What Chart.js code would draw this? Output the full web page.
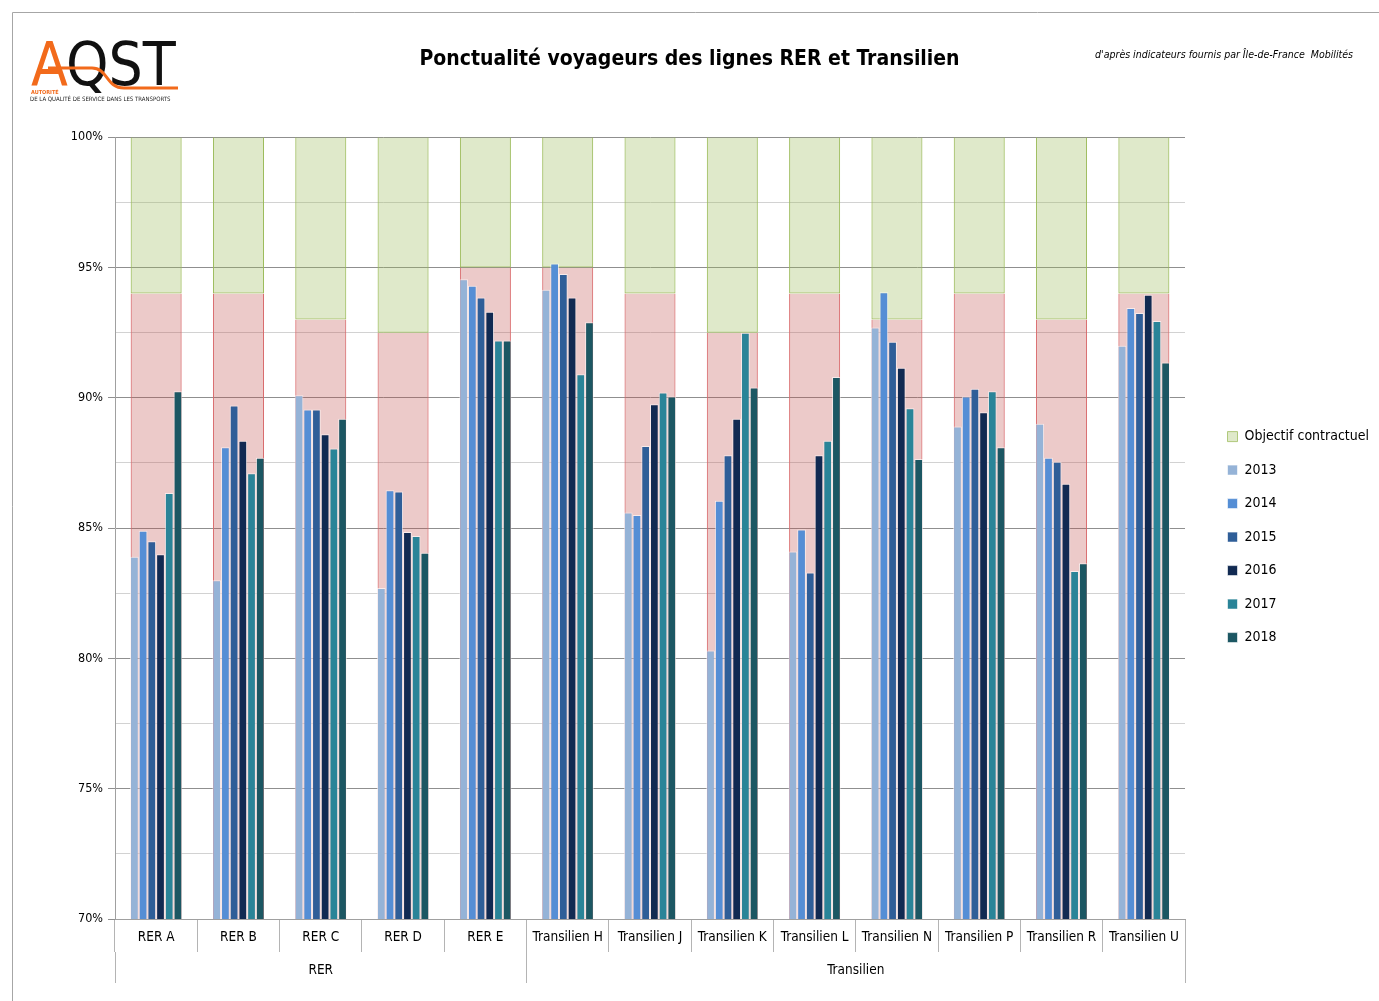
<!DOCTYPE html>
<html><head><meta charset="utf-8">
<script src="https://cdn.jsdelivr.net/npm/chart.js@4/dist/chart.umd.min.js"></script>
<style>html,body{margin:0;padding:0;background:#fff;overflow:hidden}</style>
</head><body>
<canvas id="c" width="1379" height="1001" style="display:block;width:1379px;height:1001px"></canvas>
<script>
const categories = ['RER A','RER B','RER C','RER D','RER E','Transilien H','Transilien J','Transilien K','Transilien L','Transilien N','Transilien P','Transilien R','Transilien U'];
const groupLabels = ['RER','Transilien'];
const groupSizes = [5, 8];
const objective = [94, 94, 93, 92.5, 95, 95, 94, 92.5, 94, 93, 94, 93, 94];
const years = ['2013','2014','2015','2016','2017','2018'];
const v2013 = [83.9, 83.0, 90.1, 82.7, 94.55, 94.15, 85.6, 80.3, 84.1, 92.7, 88.9, 89.0, 92.0];
const v2014 = [84.9, 88.1, 89.55, 86.45, 94.3, 95.15, 85.5, 86.05, 84.95, 94.05, 90.05, 87.7, 93.45];
const v2015 = [84.5, 89.7, 89.55, 86.4, 93.85, 94.75, 88.15, 87.8, 83.3, 92.15, 90.35, 87.55, 93.25];
const v2016 = [84.0, 88.35, 88.6, 84.85, 93.3, 93.85, 89.75, 89.2, 87.8, 91.15, 89.45, 86.7, 93.95];
const v2017 = [86.35, 87.1, 88.05, 84.7, 92.2, 90.9, 90.2, 92.5, 88.35, 89.6, 90.25, 83.35, 92.95];
const v2018 = [90.25, 87.7, 89.2, 84.05, 92.2, 92.9, 90.05, 90.4, 90.8, 87.65, 88.1, 83.65, 91.35];
const yMin = 70, yMax = 100, yStep = 2.5, yLabelStep = 5;

const FF = "'DejaVu Sans Condensed','Liberation Sans Narrow','Open Sans',Roboto,sans-serif";
Chart.defaults.font.family = FF;
Chart.defaults.color = '#000';

const yearSeries = [v2013, v2014, v2015, v2016, v2017, v2018];
const yearColors = ['#95b3d7', '#558ed5', '#2f5e98', '#112a52', '#2a8498', '#1c5763'];

const groupBounds = [0];
groupSizes.forEach(s => groupBounds.push(groupBounds[groupBounds.length - 1] + s));
const groupCenters = groupSizes.map((s, i) => groupBounds[i] + s / 2);

const tv = c => (c && c.tick ? c.tick.value : NaN);

const datasets = [
  {
    label: 'Objectif contractuel',
    data: objective.map(o => [o, yMax]),
    backgroundColor: 'rgba(155,187,89,0.32)',
    borderColor: '#9bbb59',
    borderWidth: {left: 1, right: 1, top: 0, bottom: 1},
    borderSkipped: false,
    grouped: false,
    categoryPercentage: 0.62,
    barPercentage: 1,
    order: 10,
    xAxisID: 'x', yAxisID: 'y'
  },
  {
    label: 'Écart',
    data: objective,
    backgroundColor: 'rgba(192,80,77,0.30)',
    borderColor: '#d9696b',
    borderWidth: {left: 1, right: 1, top: 0, bottom: 0},
    borderSkipped: false,
    grouped: false,
    categoryPercentage: 0.62,
    barPercentage: 1,
    order: 11,
    xAxisID: 'x', yAxisID: 'y'
  }
];
years.forEach((y, i) => datasets.push({
  label: y,
  data: yearSeries[i],
  backgroundColor: yearColors[i],
  borderColor: 'rgba(255,255,255,0.6)',
  borderWidth: 1,
  categoryPercentage: 0.635,
  barPercentage: 1,
  order: 0,
  xAxisID: 'x', yAxisID: 'y'
}));

const decorPlugin = {
  id: 'decor',
  afterDraw(chart) {
    const ctx = chart.ctx;
    ctx.save();
    ctx.strokeStyle = '#a6a6a6';
    ctx.lineWidth = 1;
    ctx.beginPath();
    ctx.moveTo(12.5, 1001); ctx.lineTo(12.5, 12.5); ctx.lineTo(1379, 12.5);
    ctx.stroke();
    ctx.textBaseline = 'alphabetic';
    ctx.textAlign = 'left';
    ctx.font = "60px " + FF;
    ctx.fillStyle = '#f26a1b';
    ctx.fillText('A', 31, 85);
    const wA = ctx.measureText('A').width;
    ctx.fillStyle = '#111';
    ctx.fillText('QST', 31 + wA - 2, 85);
    ctx.strokeStyle = '#f26a1b';
    ctx.lineWidth = 3;
    ctx.beginPath();
    ctx.moveTo(48, 68); ctx.lineTo(92, 68);
    ctx.bezierCurveTo(108, 68, 106, 88, 124, 88);
    ctx.lineTo(178, 88);
    ctx.stroke();
    ctx.font = "bold 5.5px " + FF;
    ctx.fillStyle = '#f26a1b';
    ctx.fillText('AUTORITÉ', 31, 94);
    ctx.font = "6px " + FF;
    ctx.fillStyle = '#222';
    ctx.fillText('DE LA QUALITÉ DE SERVICE DANS LES TRANSPORTS', 30, 101);
    ctx.font = "italic 10.5px " + FF;
    ctx.fillStyle = '#000';
    ctx.textAlign = 'right';
    ctx.fillText("d'après indicateurs fournis par Île-de-France  Mobilités", 1353, 58);
    ctx.restore();
  }
};

new Chart(document.getElementById('c'), {
  type: 'bar',
  data: {labels: categories, datasets},
  plugins: [decorPlugin],
  options: {
    responsive: false,
    animation: false,
    layout: {padding: {left: 0, right: 0, top: 0, bottom: 18}},
    plugins: {
      tooltip: {enabled: false},
      title: {
        display: true,
        text: 'Ponctualité voyageurs des lignes RER et Transilien',
        font: {size: 21, weight: 'bold', family: FF},
        color: '#000',
        padding: {top: 47, bottom: 65}
      },
      legend: {
        position: 'right',
        align: 'center',
        fullSize: false,
        title: {display: true, text: ' ', font: {size: 10}, padding: 3},
        labels: {
          font: {size: 14},
          color: '#000',
          boxWidth: 10,
          boxHeight: 10,
          padding: 19.5,
          filter: item => item.datasetIndex !== 1,
          sort: (a, b) => a.datasetIndex - b.datasetIndex
        }
      }
    },
    scales: {
      x: {
        type: 'category',
        position: 'bottom',
        offset: true,
        grid: {offset: true, drawOnChartArea: false, tickLength: 33, color: '#b4b4b4'},
        border: {display: true, color: '#a0a0a0'},
        ticks: {font: {size: 13.5}, color: '#000', padding: -23, autoSkip: false, maxRotation: 0},
        afterFit(s) { s.height = 33; }
      },
      x2: {
        type: 'linear',
        position: 'bottom',
        offset: false,
        min: 0, max: categories.length,
        grid: {
          offset: false,
          drawOnChartArea: false, tickLength: 31,
          color: c => groupBounds.includes(tv(c)) ? '#b4b4b4' : 'rgba(0,0,0,0)'
        },
        border: {display: false},
        ticks: {
          font: {size: 13.5}, color: '#000', padding: -21, autoSkip: false, maxRotation: 0,
          callback: v => { const i = groupCenters.indexOf(v); return i >= 0 ? groupLabels[i] : ''; }
        },
        afterBuildTicks(s) { s.ticks = groupBounds.concat(groupCenters).sort((a, b) => a - b).map(v => ({value: v})); },
        afterFit(s) { s.height = 31; }
      },
      y: {
        type: 'linear',
        min: yMin, max: yMax,
        ticks: {
          stepSize: yStep, font: {size: 12.5}, color: '#000', padding: 5,
          callback: v => (v % yLabelStep === 0 ? v + '%' : '')
        },
        grid: {
          tickLength: 7,
          color: c => (tv(c) % yLabelStep === 0 ? '#8f8f8f' : '#d2d2d2'),
          tickColor: c => (tv(c) % yLabelStep === 0 ? '#8f8f8f' : 'rgba(0,0,0,0)')
        },
        border: {color: '#a0a0a0'},
        afterFit(s) { s.width = 115; }
      },
      yR: {
        type: 'linear',
        position: 'right',
        display: true,
        grid: {display: false},
        ticks: {display: false},
        border: {display: false},
        afterFit(s) { s.width = 23; }
      }
    }
  }
});
</script>
</body></html>
